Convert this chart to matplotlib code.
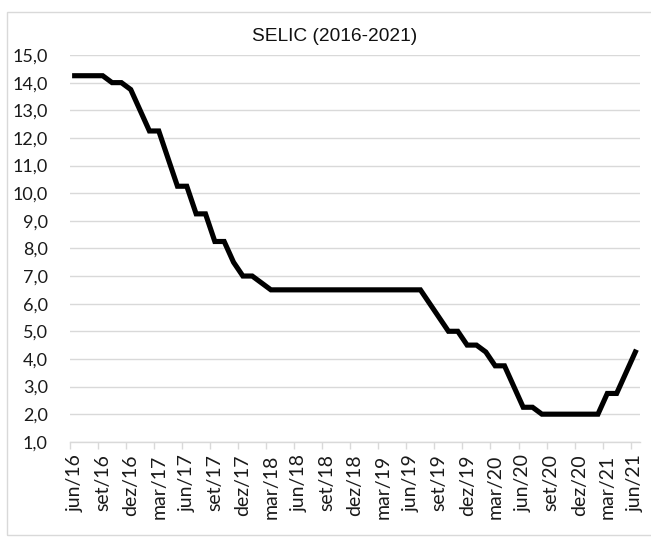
import matplotlib
matplotlib.use('Agg')
import matplotlib.pyplot as plt
from matplotlib.patches import Rectangle
import numpy as np

# monthly SELIC target, jun/16 .. jun/21
months = ['jan', 'fev', 'mar', 'abr', 'mai', 'jun', 'jul', 'ago', 'set', 'out', 'nov', 'dez']
selic = [14.25, 14.25, 14.25, 14.25, 14.00, 14.00, 13.75,
         13.00, 12.25, 12.25, 11.25, 10.25, 10.25, 9.25, 9.25, 8.25, 8.25, 7.50, 7.00,
         7.00, 6.75, 6.50, 6.50, 6.50, 6.50, 6.50, 6.50, 6.50, 6.50, 6.50, 6.50,
         6.50, 6.50, 6.50, 6.50, 6.50, 6.50, 6.50, 6.00, 5.50, 5.00, 5.00, 4.50,
         4.50, 4.25, 3.75, 3.75, 3.00, 2.25, 2.25, 2.00, 2.00, 2.00, 2.00, 2.00,
         2.00, 2.00, 2.75, 2.75, 3.50, 4.25]
labels = []
m, yr = 5, 16
for _ in selic:
    labels.append('%s/%d' % (months[m], yr))
    m += 1
    if m == 12:
        m, yr = 0, yr + 1
y_ticks = [1, 2, 3, 4, 5, 6, 7, 8, 9, 10, 11, 12, 13, 14, 15]

fig = plt.figure(figsize=(6.51, 5.38), dpi=100)
ax = fig.add_axes([70/651, 1-441.8/538, 570/651, (441.8-55)/538])

x = np.arange(len(selic))
ax.plot(x, selic, color='black', lw=3.7, solid_joinstyle='miter', zorder=3)

ax.set_xlim(-0.5, len(selic) - 0.5)
ax.set_ylim(1, 15)
ax.set_yticks(y_ticks)
ax.set_yticklabels([('%.1f' % v).replace('.', ',') for v in y_ticks],
                   fontfamily='Lato', fontsize=13, color='#1a1a1a')
ax.grid(axis='y', color='#d9d9d9', lw=1)
ax.set_axisbelow(True)

ax.set_xticks(np.arange(-0.5, len(selic), 3))
ax.set_xticklabels([])
ax.set_xticks(x[::3], minor=True)
ax.set_xticklabels(labels[::3], minor=True, rotation=90, fontfamily='Lato', fontsize=14, color='#1a1a1a')
ax.tick_params(axis='x', which='major', length=5, color='#d9d9d9', width=1)
ax.tick_params(axis='x', which='minor', length=0, pad=9)
ax.tick_params(axis='y', length=0, pad=16)

for s in ['left', 'right', 'top']:
    ax.spines[s].set_visible(False)
ax.spines['bottom'].set_color('#d9d9d9')
ax.spines['bottom'].set_linewidth(1)

fig.text(335/651, 1-36.7/538, 'SELIC (2016-2021)', ha='center', va='center',
         fontfamily='Liberation Sans', fontsize=13.8, color='#111111')

fig.patches.append(Rectangle((7/651, 1-535/538), 1.0, (535-12)/538, transform=fig.transFigure,
                             fill=False, edgecolor='#d9d9d9', lw=1))

fig.savefig('out.png', dpi=100)
